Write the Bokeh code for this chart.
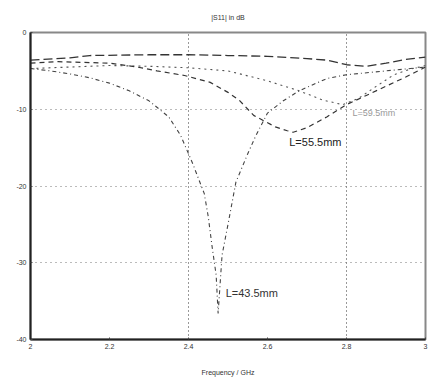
from bokeh.plotting import figure
from bokeh.models import FixedTicker, Label, Range1d
from bokeh.embed import file_html
from bokeh.resources import INLINE

# ---- data ----
freq_a = [2.0, 2.05, 2.1, 2.15, 2.2, 2.25, 2.3, 2.35, 2.38, 2.41, 2.44, 2.45, 2.46, 2.47, 2.475,
          2.485, 2.5, 2.52, 2.55, 2.57, 2.6, 2.64, 2.68, 2.75, 2.8, 2.9, 3.0]
s11_a = [-4.7, -5.0, -5.4, -5.9, -6.6, -7.6, -8.9, -11.0, -13.4, -17.0, -21.0, -24.0, -28.0, -31.6, -36.6,
         -29.0, -25.0, -19.5, -15.8, -13.5, -10.5, -8.9, -7.6, -6.0, -5.5, -5.0, -4.5]

freq_b = [2.0, 2.07, 2.2, 2.27, 2.32, 2.39, 2.455, 2.5, 2.53, 2.565, 2.62, 2.65, 2.665,
          2.7, 2.75, 2.8, 2.85, 2.9, 2.95, 3.0]
s11_b = [-4.0, -3.8, -4.0, -4.5, -5.0, -5.6, -6.5, -7.8, -8.9, -10.8, -12.3, -12.8, -13.0,
         -12.4, -11.0, -9.4, -8.2, -7.0, -5.8, -4.5]

freq_c = [2.0, 2.1, 2.2, 2.3, 2.4, 2.5, 2.6, 2.68, 2.74, 2.79, 2.83, 2.87, 2.92, 2.96, 3.0]
s11_c = [-4.7, -4.5, -4.3, -4.4, -4.6, -5.0, -6.3, -7.6, -8.8, -9.4, -8.6, -7.2, -5.5, -4.8, -4.3]

freq_d = [2.0, 2.1, 2.15, 2.3, 2.4, 2.5, 2.6, 2.7, 2.75, 2.8, 2.85, 2.9, 2.95, 3.0]
s11_d = [-3.6, -3.3, -3.0, -2.9, -2.9, -3.0, -3.1, -3.4, -3.6, -4.2, -4.4, -4.0, -3.5, -3.2]

x_ticks = [2.0, 2.2, 2.4, 2.6, 2.8, 3.0]
x_tick_labels = ["2", "2.2", "2.4", "2.6", "2.8", "3"]
y_ticks = [0, -10, -20, -30, -40]
y_tick_labels = ["0", "-10", "-20", "-30", "-40"]

title_text = "|S11| in dB"
x_title = "Frequency / GHz"
label_a = "L=43.5mm"
label_b = "L=55.5mm"
label_c = "L=59.5mm"

FONT = "Liberation Sans"

p = figure(width=428, height=383, output_backend="svg", toolbar_location=None,
           x_range=Range1d(2.0, 3.0), y_range=Range1d(-40, 0),
           min_border_left=30, min_border_right=3, min_border_top=32, min_border_bottom=44,
           frame_width=395, frame_height=307)
p.background_fill_color = "white"
p.border_fill_color = "white"
p.outline_line_color = "#888888"
p.outline_line_width = 2

p.title.text = title_text
p.title.text_font = FONT
p.title.text_font_size = "7px"
p.title.text_font_style = "normal"
p.title.text_color = "#333333"
p.title.align = "center"
p.title.standoff = 23

# axes
for ax in (p.xaxis[0], p.yaxis[0]):
    ax.axis_line_color = "#222222"
    ax.axis_line_width = 2
    ax.major_tick_line_color = "#444444"
    ax.major_tick_in = 2
    ax.major_tick_out = 0
    ax.minor_tick_line_color = None
    ax.major_label_text_font = FONT
    ax.major_label_text_font_size = "7px"
    ax.major_label_text_color = "#333333"
    ax.major_label_standoff = 4

p.xaxis.ticker = FixedTicker(ticks=x_ticks)
p.xaxis.major_label_overrides = {t: l for t, l in zip(x_ticks, x_tick_labels)}
p.yaxis.ticker = FixedTicker(ticks=y_ticks)
p.yaxis.major_label_overrides = {t: l for t, l in zip(y_ticks, y_tick_labels)}
p.xaxis.axis_label = x_title
p.xaxis.axis_label_text_font = FONT
p.xaxis.axis_label_text_font_size = "7px"
p.xaxis.axis_label_text_font_style = "normal"
p.xaxis.axis_label_text_color = "#333333"
p.xaxis.axis_label_standoff = 17

# grid
p.xgrid.ticker = FixedTicker(ticks=[2.4, 2.8])
p.xgrid.grid_line_color = "#333333"
p.xgrid.grid_line_dash = "1 3"
p.xgrid.grid_line_width = 1
p.ygrid.ticker = FixedTicker(ticks=[-10, -20, -30])
p.ygrid.grid_line_color = "#777777"
p.ygrid.grid_line_dash = "1 4"
p.ygrid.grid_line_width = 1

# curves
p.line(freq_d, s11_d, line_color="#333333", line_width=1.3, line_dash="9 4")
p.line(freq_c, s11_c, line_color="#555555", line_width=1.1, line_dash="2 4")
p.line(freq_b, s11_b, line_color="#333333", line_width=1.2, line_dash="5 4")
p.line(freq_a, s11_a, line_color="#444444", line_width=1.1, line_dash="4 3 1 3")

# labels
p.add_layout(Label(x=2.655, y=-14.3, text=label_b, text_font=FONT, text_font_size="11px",
                   text_color="#222222", text_align="left", text_baseline="middle"))
p.add_layout(Label(x=2.494, y=-33.9, text=label_a, text_font=FONT, text_font_size="11px",
                   text_color="#333333", text_align="left", text_baseline="middle"))
p.add_layout(Label(x=2.815, y=-10.5, text=label_c, text_font=FONT, text_font_size="9px",
                   text_color="#999999", text_align="left", text_baseline="middle"))

open("out.html", "w").write(file_html(p, INLINE))
